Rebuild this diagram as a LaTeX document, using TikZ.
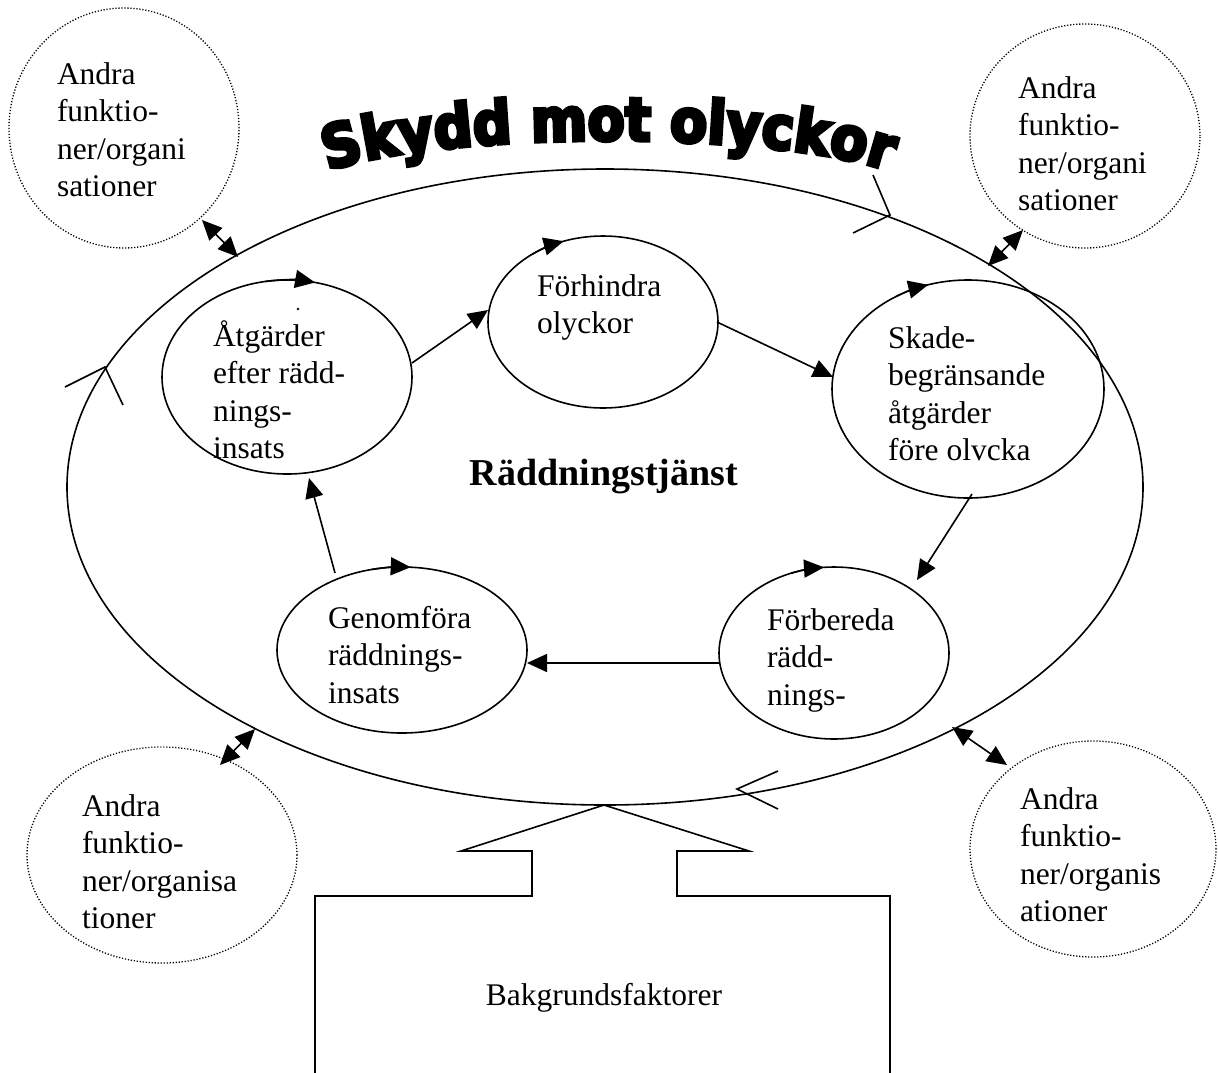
\documentclass[tikz,border=0pt]{standalone}
\usepackage{fontspec}
\setmainfont{Liberation Serif}
\newfontfamily\titlefont[FakeBold=6,FakeStretch=0.9]{DejaVu Sans Bold}
\usetikzlibrary{arrows.meta,shapes.geometric,decorations.text}

\begin{document}
\begin{tikzpicture}[x=1pt,y=-1pt,
  every node/.style={inner sep=0pt, outer sep=0pt},
  thin line/.style={line width=1.6pt},
  stage/.style={draw, ellipse, line width=1.6pt},
  other/.style={draw, ellipse, line width=1.3pt, dash pattern=on 1.2pt off 1.8pt},
  lbl/.style={font=\fontsize{31.5}{37.5}\selectfont, align=left, anchor=north west},
  flow/.style={line width=1.6pt, -{Triangle[length=20pt,width=18pt]}},
  link/.style={line width=1.6pt, {Triangle[length=20pt,width=18pt]}-{Triangle[length=20pt,width=18pt]}},
]
\useasboundingbox (0,0) rectangle (1218,1072);

% title along an arc
\path[decorate, decoration={text along path, text align=center,
  text={|\titlefont\fontsize{60}{60}\selectfont|Skydd mot olyckor}}]
  (325,172) .. controls (440,130) and (777,130) .. (892,172);

% the main ring
\node[stage, minimum width=1076pt, minimum height=636pt] (ring) at (605,487) {};

% direction marks on the ring
\coordinate (cT) at (890,215);
\coordinate (cL) at (105,367);
\coordinate (cB) at (737,789);
\draw[thin line] (873,175) -- (cT) -- (853,233);
\draw[thin line] (65,387) -- (cL) -- (123,405);
\draw[thin line] (778,771) -- (cB) -- (778,809);

% the five stages
\node[stage, minimum width=250pt, minimum height=194pt] (A) at (287,377) {};
\node[stage, minimum width=230pt, minimum height=172pt] (F) at (603,322) {};
\node[stage, minimum width=272pt, minimum height=218pt] (S) at (968,389) {};
\node[stage, minimum width=230pt, minimum height=172pt] (B) at (834,653) {};
\node[stage, minimum width=250pt, minimum height=166pt] (G) at (402,650) {};

% arrowheads on top of each stage
\draw[flow] (A.center) ++(-100:125 and 97) arc[start angle=-100, end angle=-77, x radius=125, y radius=97];
\draw[flow] (F.center) ++(-128:115 and 86) arc[start angle=-128, end angle=-110, x radius=115, y radius=86];
\draw[flow] (S.center) ++(-122:136 and 109) arc[start angle=-122, end angle=-107, x radius=136, y radius=109];
\draw[flow] (B.center) ++(-112:115 and 86) arc[start angle=-112, end angle=-95, x radius=115, y radius=86];
\draw[flow] (G.center) ++(-104:125 and 83) arc[start angle=-104, end angle=-86, x radius=125, y radius=83];
\fill (298,309) circle (1.3pt);

% stage texts
\node[lbl] (tA) at (213,320) {\strut Åtgärder\\efter rädd-\\nings-\\insats};
\node[lbl] (tF) at (537,269.75) {\strut Förhindra\\olyckor};
\node[lbl] (tS) at (888,321.75) {\strut Skade-\\begränsande\\åtgärder\\före olvcka};
\node[lbl] (tB) at (767,603.75) {\strut Förbereda\\rädd-\\nings-};
\node[lbl] (tG) at (328,601.75) {\strut Genomföra\\räddnings-\\insats};
\node[font=\fontsize{38}{44}\selectfont\bfseries, anchor=base] (core) at (604,485) {Räddningstjänst};

% cycle between the stages
\coordinate (a1) at (412,363); \coordinate (f0) at (488,310);
\coordinate (f1) at (717,322); \coordinate (s0) at (833,377);
\coordinate (s1) at (972,494); \coordinate (b0) at (917,580);
\coordinate (b1) at (719,663); \coordinate (g0) at (527,663);
\coordinate (g1) at (335,573); \coordinate (a0) at (309,478);
\draw[flow] (a1) -- (f0);
\draw[flow] (f1) -- (s0);
\draw[flow] (s1) -- (b0);
\draw[flow] (b1) -- (g0);
\draw[flow] (g1) -- (a0);

% other functions / organisations
\node[other, minimum width=230pt, minimum height=240pt] (o1) at (124,128) {};
\node[other, minimum width=230pt, minimum height=224pt] (o2) at (1085,136) {};
\node[other, minimum width=270pt, minimum height=216pt] (o3) at (162,855) {};
\node[other, minimum width=246pt, minimum height=216pt] (o4) at (1093,849) {};
\node[lbl] (t1) at (57,58) {\strut Andra\\funktio-\\ner/organi\\sationer};
\node[lbl] (t2) at (1018,72) {\strut Andra\\funktio-\\ner/organi\\sationer};
\node[lbl] (t3) at (82,790) {\strut Andra\\funktio-\\ner/organisa\\tioner};
\node[lbl] (t4) at (1020,783) {\strut Andra\\funktio-\\ner/organis\\ationer};

\coordinate (l1a) at (202,220); \coordinate (l1b) at (238,257);
\coordinate (l2a) at (1023,230); \coordinate (l2b) at (988,266);
\coordinate (l3a) at (220,765); \coordinate (l3b) at (255,729);
\coordinate (l4a) at (1007,765); \coordinate (l4b) at (952,727);
\draw[link] (l1a) -- (l1b);
\draw[link] (l2a) -- (l2b);
\draw[link] (l3a) -- (l3b);
\draw[link] (l4a) -- (l4b);

% background factors feeding the ring
\draw[thin line] (315,1075) -- (315,896) -- (532,896) -- (532,851) -- (461,851)
  -- (604,805) -- (749,851) -- (677,851) -- (677,896) -- (890,896) -- (890,1075);
\node[font=\fontsize{31.5}{37.5}\selectfont, anchor=base] (bg) at (604,1005) {Bakgrundsfaktorer};
\end{tikzpicture}
\end{document}
